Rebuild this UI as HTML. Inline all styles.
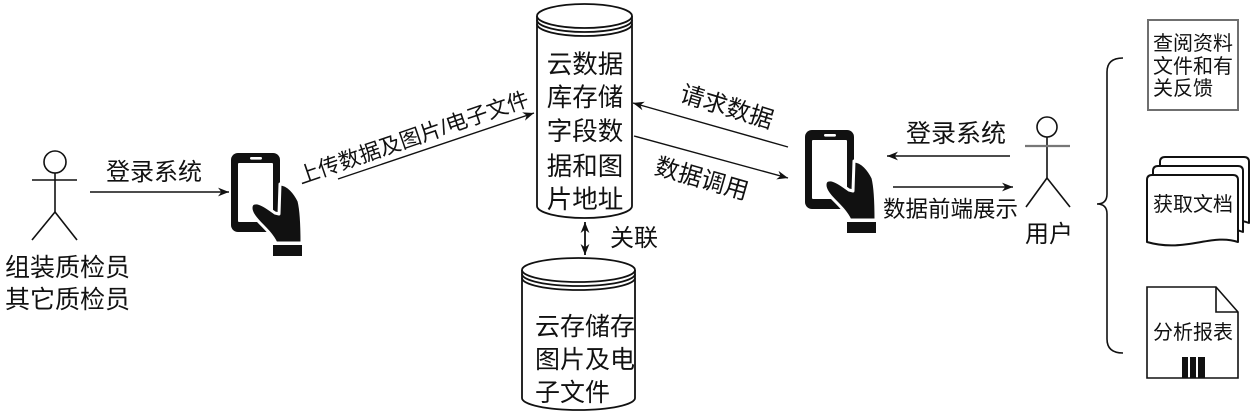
<!DOCTYPE html>
<html>
<head>
<meta charset="utf-8">
<style>
html,body{margin:0;padding:0;background:#fff;}
svg{display:block;}
text{font-family:"Liberation Sans","Noto Sans CJK SC",sans-serif;fill:#111;}
</style>
</head>
<body>
<svg width="1260" height="413" viewBox="0 0 1260 413" xmlns="http://www.w3.org/2000/svg">
<defs>
<marker id="ah" viewBox="0 0 10 8" refX="10" refY="4" markerWidth="11" markerHeight="9" markerUnits="userSpaceOnUse" orient="auto-start-reverse">
<path d="M0,0 L10,4 L0,8 L3,4 Z" fill="#111"/>
</marker>
<g id="phone">
<rect x="0" y="0" width="49" height="79" rx="7" fill="#111"/>
<rect x="7" y="10" width="35" height="59" rx="1" fill="#fff"/>
<rect x="19" y="4" width="12" height="2.6" rx="1.2" fill="#fff"/>
<path d="M24,50 C29,49 37,55 44,60 L48,61 L49,31 C57,31 64,40 68,48 C70,56 71,70 71,90 L45,90 C41,82 35,76 29,70 C23,64 20,59 20,55 C20,52 21,50 24,50 Z" fill="#111" stroke="#fff" stroke-width="3" stroke-linejoin="round"/>
<rect x="42" y="92" width="29" height="11" fill="#111"/>
</g>
</defs>

<!-- Left stick figure -->
<g stroke="#111" stroke-width="1.6" fill="none">
<circle cx="55" cy="162" r="11" fill="#fff"/>
<line x1="55" y1="173" x2="55" y2="212"/>
<line x1="32" y1="180" x2="77" y2="180"/>
<line x1="55" y1="212" x2="32" y2="240"/>
<line x1="55" y1="212" x2="77" y2="240"/>
</g>
<text x="5" y="276" font-size="25">组装质检员</text>
<text x="5" y="308" font-size="25">其它质检员</text>

<!-- left login arrow -->
<text x="106" y="180" font-size="24">登录系统</text>
<line x1="90" y1="192" x2="229" y2="192" stroke="#111" stroke-width="1.5" marker-end="url(#ah)"/>

<!-- phones -->
<use href="#phone" x="231" y="153"/>
<use href="#phone" x="805" y="130"/>

<!-- upload arrow -->
<line x1="338" y1="179" x2="534" y2="113" stroke="#111" stroke-width="1.4" marker-end="url(#ah)"/>
<text transform="translate(413,137) rotate(-19)" x="0" y="8" font-size="21.5" text-anchor="middle">上传数据及图片/电子文件</text>

<!-- Cylinder 1 -->
<g stroke="#111" stroke-width="1.8" fill="#fff">
<path d="M537,16 L537,206 A47.5,12 0 0 0 632,206 L632,16"/>
<ellipse cx="584.5" cy="16" rx="47.5" ry="12"/>
<path d="M537,20 A47.5,12 0 0 0 632,20" fill="none"/>
<path d="M537,24 A47.5,12 0 0 0 632,24" fill="none"/>
</g>
<text x="585" y="73" font-size="25.5" text-anchor="middle">云数据</text>
<text x="585" y="106" font-size="25.5" text-anchor="middle">库存储</text>
<text x="585" y="140" font-size="25.5" text-anchor="middle">字段数</text>
<text x="585" y="175" font-size="25.5" text-anchor="middle">据和图</text>
<text x="585" y="208" font-size="25.5" text-anchor="middle">片地址</text>

<!-- double arrow -->
<line x1="585" y1="222" x2="585" y2="255" stroke="#111" stroke-width="1.8" marker-start="url(#ah)" marker-end="url(#ah)"/>
<text x="610" y="246" font-size="24">关联</text>

<!-- Cylinder 2 -->
<g stroke="#111" stroke-width="1.8" fill="#fff">
<path d="M522,270 L522,398 A56.5,12 0 0 0 635,398 L635,270"/>
<ellipse cx="578.5" cy="270" rx="56.5" ry="12"/>
<path d="M522,274 A56.5,12 0 0 0 635,274" fill="none"/>
<path d="M522,278 A56.5,12 0 0 0 635,278" fill="none"/>
</g>
<text x="535" y="335" font-size="25">云存储存</text>
<text x="535" y="368" font-size="25">图片及电</text>
<text x="535" y="401" font-size="25">子文件</text>

<!-- request / call arrows -->
<line x1="788" y1="147" x2="633" y2="103" stroke="#111" stroke-width="1.4" marker-end="url(#ah)"/>
<text transform="translate(727,106) rotate(17)" x="0" y="9" font-size="24" text-anchor="middle">请求数据</text>
<line x1="634" y1="136" x2="788" y2="178" stroke="#111" stroke-width="1.4" marker-end="url(#ah)"/>
<text transform="translate(702,178) rotate(16)" x="0" y="9" font-size="24" text-anchor="middle">数据调用</text>

<!-- right arrows -->
<text x="906" y="142" font-size="25">登录系统</text>
<line x1="1010" y1="156" x2="887" y2="156" stroke="#111" stroke-width="1.5" marker-end="url(#ah)"/>
<line x1="893" y1="187" x2="1013" y2="187" stroke="#111" stroke-width="1.5" marker-end="url(#ah)"/>
<text x="883" y="217" font-size="22.5">数据前端展示</text>

<!-- Right stick figure -->
<g stroke="#111" stroke-width="1.6" fill="none">
<circle cx="1047" cy="127" r="10" fill="#fff"/>
<line x1="1047" y1="137" x2="1047" y2="178"/>
<line x1="1025" y1="146" x2="1070" y2="146" stroke="#777" stroke-width="2.2"/>
<line x1="1047" y1="178" x2="1026" y2="207"/>
<line x1="1047" y1="178" x2="1070" y2="207"/>
</g>
<text x="1025" y="242" font-size="24">用户</text>

<!-- Brace -->
<path d="M1123,58 Q1107,58 1107,72 L1107,194 Q1107,204 1097,204 Q1107,204 1107,214 L1107,339 Q1107,353 1123,353" fill="none" stroke="#111" stroke-width="1.6"/>

<!-- Box 1 -->
<rect x="1148" y="20" width="90" height="90" fill="#fff" stroke="#6f6f6f" stroke-width="2"/>
<text x="1153" y="50" font-size="20">查阅资料</text>
<text x="1153" y="73" font-size="20">文件和有</text>
<text x="1153" y="95" font-size="20">关反馈</text>

<!-- Multi-document -->
<g stroke="#111" stroke-width="2" fill="#fff" stroke-linejoin="round">
<path d="M1160,162 Q1160,157 1165,157 L1244,157 Q1249,157 1249,162 L1249,223 C1226,214 1197,232 1160,223 Z"/>
<path d="M1153,171 Q1153,166 1158,166 L1238,166 Q1243,166 1243,171 L1243,232 C1220,223 1191,241 1153,232 Z"/>
<path d="M1147,180 Q1147,175 1152,175 L1233,175 Q1238,175 1238,180 L1238,242 C1212,233 1185,253 1147,242 Z"/>
</g>
<text x="1153" y="211" font-size="20">获取文档</text>

<!-- Note with fold -->
<g stroke="#111" stroke-width="1.6" fill="#fff">
<path d="M1147,287 L1216,287 L1238,312 L1238,378 L1147,378 Z"/>
<path d="M1216,287 L1216,312 L1238,312" fill="none"/>
</g>
<text x="1153" y="339" font-size="20">分析报表</text>
<rect x="1182" y="357" width="6" height="21" fill="#111"/>
<rect x="1190" y="357" width="6" height="21" fill="#111"/>
<rect x="1198" y="357" width="7" height="21" fill="#111"/>
</svg>
</body>
</html>
